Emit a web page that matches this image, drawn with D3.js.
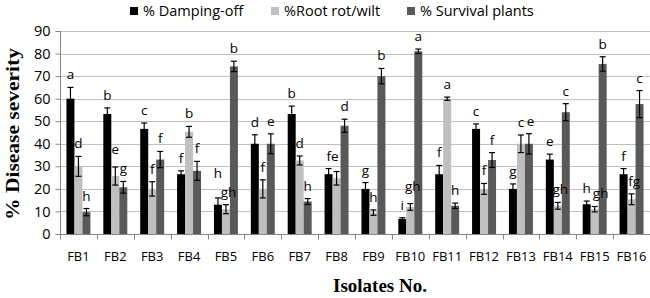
<!DOCTYPE html>
<html><head><meta charset="utf-8">
<script src="https://cdn.jsdelivr.net/npm/d3@7"></script>
<style>body{margin:0;background:#fff}svg{display:block}</style>
</head><body>
<script>
const categories = ["FB1","FB2","FB3","FB4","FB5","FB6","FB7","FB8","FB9","FB10","FB11","FB12","FB13","FB14","FB15","FB16"];
const seriesNames = ["% Damping-off","%Root rot/wilt","% Survival plants"];
const dampingOff = [60,53.2,46.6,26.5,13,40,53.2,26.5,20,6.7,26.5,46.6,20,33,13.2,26.5];
const rootRot    = [30,25.7,20,45.3,11,20,32.6,24.7,9.5,12,60,20,40,12.5,11,15.4];
const survival   = [9.7,20.7,33,28,74.3,40,14.4,48,70,81,12.5,32.8,40,54,75.4,57.6];
const errDamping = [5,2.7,2.6,1.5,3,4,3.5,2.5,2.8,0.5,3.9,2.2,2.2,2.4,1.4,2.5];
const errRoot    = [4.4,4,3.2,2.4,2,4,2,3,1.2,1.5,0.7,2.4,3.9,1.5,1.2,2.4];
const errSurv    = [1.6,2.6,3.6,4.2,2.3,4.4,1.3,2.9,3.4,1,1.2,3.3,4.5,3.8,3.2,6];
const lettersDamping = ["a","b","c","f","h","d","b","fe","g","i","f","c","g","e","h","f"];
const lettersRoot    = ["d","e","f","b","gh","f","d","","h","gh","a","f","c","gh","gh","fg"];
const lettersSurv    = ["h","g","f","f","b","e","h","d","b","a","h","f","e","c","b","c"];
const yTicks = [0,10,20,30,40,50,60,70,80,90];
const colors = ["#000000","#bfbfbf","#595959"];

const W=650,H=298;
const svg=d3.select("body").append("svg").attr("width",W).attr("height",H);
const pL=60,pR=650,pT=31,pB=234;
const y=d3.scaleLinear().domain([0,90]).range([pB,pT]);
const x0=d3.scaleBand().domain(categories).range([pL,pR]).padding(0);
const bw=x0.bandwidth(), gw=bw*0.65;
const x1=d3.scaleBand().domain(seriesNames).range([0,gw]).padding(0);
const off=(bw-gw)/2;
const font="'Open Sans','Noto Sans',sans-serif";
const serif="'Liberation Serif','Times New Roman',serif";

// gridlines
svg.append("g").selectAll("line").data(yTicks.filter(d=>d>0)).join("line")
  .attr("x1",pL).attr("x2",pR).attr("y1",d=>Math.round(y(d))+0.5).attr("y2",d=>Math.round(y(d))+0.5)
  .attr("stroke","#c0c0c0").attr("stroke-width",1);

// y axis
const ya=svg.append("g").attr("transform",`translate(${pL+0.5},0)`)
  .call(d3.axisLeft(y).tickValues(yTicks).tickSize(5).tickPadding(5));
ya.select(".domain").attr("stroke","#868686").attr("d",`M0,${y(90)}V${pB}`);
ya.selectAll(".tick line").attr("stroke","#868686");
ya.selectAll("text").attr("font-family",font).attr("font-size",14.5).attr("fill","#000");

// x axis
const xa=svg.append("g").attr("transform",`translate(0,${pB+0.5})`);
xa.append("line").attr("x1",pL).attr("x2",pR).attr("stroke","#868686");
xa.selectAll("line.t").data(d3.range(categories.length+1)).join("line").attr("class","t")
  .attr("x1",i=>Math.round(pL+i*bw)+0.5).attr("x2",i=>Math.round(pL+i*bw)+0.5)
  .attr("y1",0).attr("y2",5).attr("stroke","#868686");
xa.selectAll("text").data(categories).join("text")
  .attr("x",d=>x0(d)+bw/2).attr("y",26.5).attr("text-anchor","middle")
  .attr("font-family",font).attr("font-size",13).text(d=>d);

const series=[
  {name:seriesNames[0],vals:dampingOff,err:errDamping,lab:lettersDamping},
  {name:seriesNames[1],vals:rootRot,err:errRoot,lab:lettersRoot},
  {name:seriesNames[2],vals:survival,err:errSurv,lab:lettersSurv}
];
const labelData=[];
series.forEach((s,si)=>{
  const g=svg.append("g");
  const data=categories.map((c,i)=>({c,i,si,v:s.vals[i],e:s.err[i],l:s.lab[i]}));
  const bx=d=>x0(d.c)+off+x1(s.name);
  g.selectAll("rect").data(data).join("rect")
    .attr("x",bx).attr("width",x1.bandwidth())
    .attr("y",d=>y(d.v)).attr("height",d=>y(0)-y(d.v)).attr("fill",colors[si]);
  const cx=d=>bx(d)+x1.bandwidth()/2;
  const eg=g.selectAll("g.e").data(data).join("g").attr("class","e");
  eg.append("line").attr("x1",cx).attr("x2",cx).attr("y1",d=>y(d.v+d.e)).attr("y2",d=>y(d.v-d.e));
  eg.append("line").attr("x1",d=>cx(d)-3).attr("x2",d=>cx(d)+3).attr("y1",d=>y(d.v+d.e)).attr("y2",d=>y(d.v+d.e));
  eg.append("line").attr("x1",d=>cx(d)-3).attr("x2",d=>cx(d)+3).attr("y1",d=>y(d.v-d.e)).attr("y2",d=>y(d.v-d.e));
  eg.selectAll("line").attr("stroke","#000").attr("stroke-width",1.2);
  data.filter(d=>d.l).forEach(d=>{d.x=cx(d)+(d.l.length>1?(si===0?4:2.5):0);labelData.push(d);});
});

// significance letters on top
const lt=svg.append("g").selectAll("text").data(labelData).join("text")
  .attr("x",d=>d.x).attr("y",d=>y(d.v+d.e)-8)
  .attr("text-anchor","middle").attr("font-family",font).attr("font-size",13.5)
  .attr("fill","#000").text(d=>d.l);
// resolve overlaps within a group
const nodes=lt.nodes();
categories.forEach((c,ci)=>{
  const grp=nodes.filter(n=>n.__data__.i===ci).sort((a,b)=>a.__data__.si-b.__data__.si);
  for(let k=0;k<grp.length-1;k++){
    const a=grp[k],b=grp[k+1];
    const A=a.getBBox(),B=b.getBBox();
    const oy=Math.min(A.y+A.height,B.y+B.height)-Math.max(A.y,B.y);
    const gap=B.x-(A.x+A.width);
    if(oy>0.5&&gap<2){
      const dy=Math.abs(+a.getAttribute("y")-(+b.getAttribute("y")));
      if(dy<6){
        b.setAttribute("x",+b.getAttribute("x")+(2-gap));
      }else{
        const up=A.y<=B.y?a:b, other=up===a?B:A, U=up===a?A:B;
        const shift=(U.y+U.height)-other.y+1;
        up.setAttribute("y",+up.getAttribute("y")-shift);
      }
    }
  }
});

// legend
const lg=svg.append("g");
const lx=[130,271,407];
seriesNames.forEach((n,i)=>{
  lg.append("rect").attr("x",lx[i]).attr("y",7).attr("width",8).attr("height",8).attr("fill",colors[i]);
  lg.append("text").attr("x",lx[i]+13).attr("y",16).attr("font-family",font).attr("font-size",14.5).text(n);
});

// titles
svg.append("text").attr("transform",`translate(19,134) rotate(-90)`)
  .attr("text-anchor","middle").attr("font-family",serif)
  .attr("font-weight","bold").attr("font-size",19).attr("textLength",172).attr("lengthAdjust","spacingAndGlyphs")
  .text("% Disease severity");
svg.append("text").attr("x",380).attr("y",292).attr("text-anchor","middle")
  .attr("font-family",serif).attr("font-weight","bold").attr("font-size",19).text("Isolates No.");
</script>
</body></html>
